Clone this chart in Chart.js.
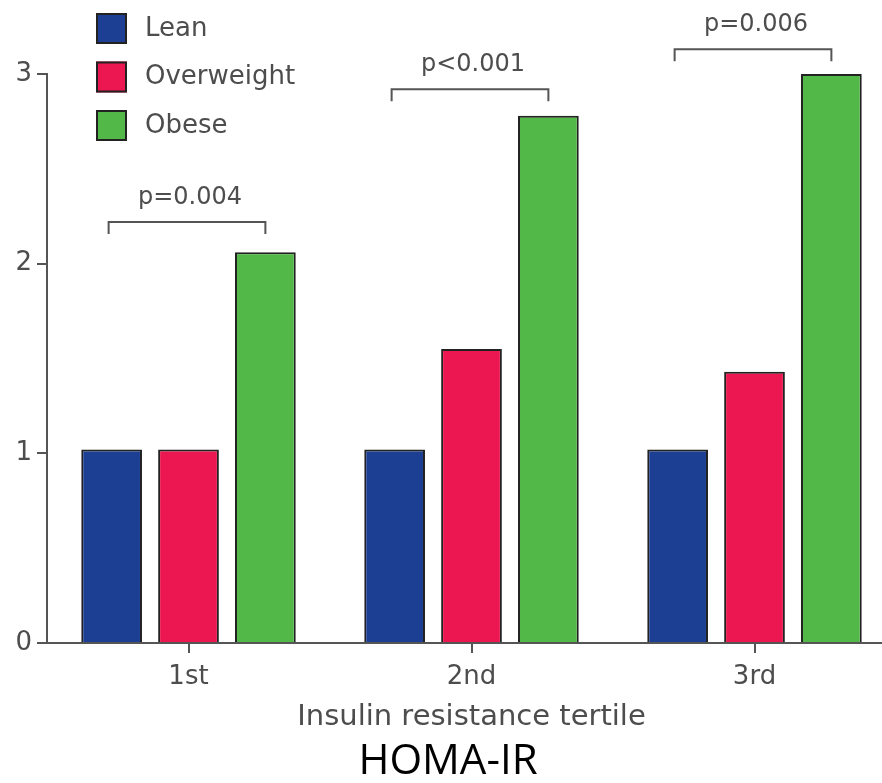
<!DOCTYPE html>
<html lang="en">
<head>
<meta charset="UTF-8">
<title>HOMA-IR</title>
<script src="https://cdn.jsdelivr.net/npm/chart.js"></script>
<style>
    body {
        margin: 0;
        overflow: hidden;
        background: #fff;
    }
    canvas {
        display: block;
    }
</style>
</head>
<body>
<canvas id="grafico" width="900" height="783"></canvas>
<script>
    // datos
    const tertiles = ['1st', '2nd', '3rd'];
    const lean = [1.02, 1.02, 1.02];
    const overweight = [1.02, 1.55, 1.43];
    const obese = [2.06, 2.78, 3.0];
    const yTicks = [0, 1, 2, 3];
    const pLabels = ['p=0.004', 'p<0.001', 'p=0.006'];
    const pLevels = [2.22, 2.92, 3.13];

    const textColor = '#4d4d4d';
    const axisColor = '#555';
    const font = 'DejaVu Sans';

    // leyenda vertical arriba a la izquierda
    const legendPlugin = {
        id: 'leyenda',
        afterDraw(chart) {
            const ctx = chart.ctx;
            ctx.save();
            chart.data.datasets.forEach((ds, i) => {
                const y = 13 + i * 48.5;
                ctx.fillStyle = ds.backgroundColor;
                ctx.fillRect(96, y, 31, 31);
                ctx.strokeStyle = '#222';
                ctx.lineWidth = 2;
                ctx.strokeRect(97, y + 1, 29, 29);
                ctx.fillStyle = textColor;
                ctx.font = '26px "' + font + '"';
                ctx.textAlign = 'left';
                ctx.textBaseline = 'middle';
                ctx.fillText(ds.label, 145, y + 16);
            });
            ctx.restore();
        }
    };

    // corchetes con p-valores entre Lean y Obese
    const bracketPlugin = {
        id: 'corchetes',
        afterDatasetsDraw(chart) {
            const ctx = chart.ctx;
            const y = chart.scales.y;
            const m0 = chart.getDatasetMeta(0);
            const m2 = chart.getDatasetMeta(2);
            ctx.save();
            ctx.strokeStyle = axisColor;
            ctx.lineWidth = 2;
            pLabels.forEach((txt, i) => {
                const x1 = m0.data[i].x - 3;
                const x2 = m2.data[i].x;
                const yy = y.getPixelForValue(pLevels[i]);
                ctx.beginPath();
                ctx.moveTo(x1, yy + 12);
                ctx.lineTo(x1, yy);
                ctx.lineTo(x2, yy);
                ctx.lineTo(x2, yy + 12);
                ctx.stroke();
                ctx.fillStyle = textColor;
                ctx.font = '24px "' + font + '"';
                ctx.textAlign = 'center';
                ctx.textBaseline = 'alphabetic';
                ctx.fillText(txt, (x1 + x2) / 2 + 3, yy - 18);
            });
            ctx.restore();
        }
    };

    const ctx = document.getElementById('grafico').getContext('2d');

    new Chart(ctx, {
        type: 'bar',
        data: {
            labels: tertiles,
            datasets: [
                { label: 'Lean', data: lean, backgroundColor: '#1c3f94' },
                { label: 'Overweight', data: overweight, backgroundColor: '#ec1651' },
                { label: 'Obese', data: obese, backgroundColor: '#52b848' }
            ].map(d => Object.assign(d, {
                borderColor: '#222',
                borderWidth: 2,
                categoryPercentage: 0.815,
                barPercentage: 0.79
            }))
        },
        options: {
            responsive: false,
            devicePixelRatio: 1,
            animation: false,
            layout: {
                padding: { top: 74, right: 4, left: 0, bottom: 0 }
            },
            plugins: {
                legend: { display: false },
                tooltip: { enabled: false },
                title: {
                    display: true,
                    position: 'bottom',
                    text: 'HOMA-IR',
                    color: '#000',
                    font: { family: 'Open Sans', size: 42, weight: 'normal', lineHeight: 1 },
                    padding: { top: 9, bottom: 0 }
                }
            },
            scales: {
                x: {
                    grid: {
                        display: true,
                        drawOnChartArea: false,
                        offset: false,
                        tickLength: 10,
                        color: axisColor,
                        lineWidth: 2
                    },
                    border: { display: true, color: axisColor, width: 2 },
                    ticks: {
                        color: textColor,
                        padding: 11,
                        font: { family: font, size: 26, lineHeight: 1 }
                    },
                    title: {
                        display: true,
                        text: 'Insulin resistance tertile',
                        color: textColor,
                        font: { family: font, size: 29, lineHeight: 1 },
                        padding: { top: 2, bottom: 0 }
                    }
                },
                y: {
                    min: 0,
                    max: 3,
                    afterFit(scale) { scale.width = 47; },
                    afterBuildTicks(scale) { scale.ticks = yTicks.map(v => ({ value: v })); },
                    grid: {
                        display: true,
                        drawOnChartArea: false,
                        tickLength: 10,
                        color: axisColor,
                        lineWidth: 2
                    },
                    border: { display: true, color: axisColor, width: 2 },
                    ticks: {
                        color: textColor,
                        padding: 5,
                        font: { family: font, size: 26 }
                    }
                }
            }
        },
        plugins: [legendPlugin, bracketPlugin]
    });
</script>
</body>
</html>
